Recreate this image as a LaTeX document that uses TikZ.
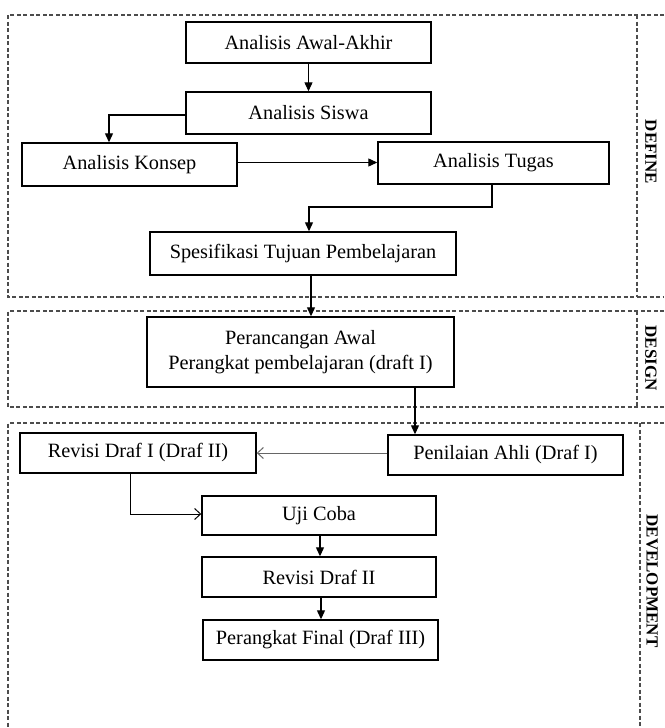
\documentclass[tikz,border=0pt]{standalone}
\usepackage{fontspec}
\setmainfont{Liberation Serif}
\usetikzlibrary{arrows.meta}
\begin{document}
\begin{tikzpicture}[x=1pt,y=-1pt,
  box/.style={draw,line width=1.4pt,inner sep=0pt,align=center,font=\fontsize{20.3}{25}\selectfont},
  arr/.style={line width=1.2pt,-{Triangle[length=9pt,width=8pt]}},
  openarr/.style={line width=1pt,-{Straight Barb[length=6pt,width=11pt]}},
  frame/.style={line width=1.1pt,gray!60!black,dash pattern=on 4pt off 2.5pt},
  phase/.style={rotate=-90,font=\bfseries\fontsize{17}{20}\selectfont}]
\useasboundingbox (0,0) rectangle (664,728);
% frames
\draw[frame] (664,15) -- (8,15) -- (8,297) -- (664,297);
\draw[frame] (637,15) -- (637,297);
\draw[frame] (664,311) -- (8,311) -- (8,407) -- (664,407);
\draw[frame] (637,311) -- (637,407);
\draw[frame] (664,423) -- (8,423) -- (8,728);
\draw[frame] (640,423) -- (640,728);
\node[phase] (lDefine) at (651,152) {DEFINE};
\node[phase] (lDesign) at (651,358) {DESIGN};
\node[phase] (lDev) at (652,581) {DEVELOPMENT};
% boxes
\node[box,minimum width=245pt,minimum height=41pt] (aa) at (308.5,42.5) {Analisis Awal-Akhir};
\node[box,minimum width=245pt,minimum height=42pt] (as) at (308.5,113) {Analisis Siswa};
\node[box,minimum width=215pt,minimum height=43pt] (ak) at (129.5,164.5) {Analisis Konsep};
\node[box,minimum width=231pt,minimum height=42pt] (at) at (493.5,163) {Analisis Tugas};
\node[box,minimum width=306pt,minimum height=43pt] (sp) at (303,253.5) {Spesifikasi Tujuan Pembelajaran};
\node[box,minimum width=307pt,minimum height=70pt] (pa) at (300.5,352) {Perancangan Awal\\Perangkat pembelajaran (draft I)};
\node[box,minimum width=236pt,minimum height=40pt] (rd1) at (138,453) {Revisi Draf I (Draf II)};
\node[box,minimum width=235pt,minimum height=40pt] (pn) at (505.5,455) {Penilaian Ahli (Draf I)};
\node[box,minimum width=234pt,minimum height=39pt] (uc) at (319,515.5) {Uji Coba};
\node[box,minimum width=234pt,minimum height=40pt] (rd2) at (319,577) {Revisi Draf II};
\node[box,minimum width=235pt,minimum height=40pt] (fin) at (320.5,640) {Perangkat Final (Draf III)};
% connectors
\draw[arr] (aa.south) -- (as.north);
\draw[arr] ([yshift=-2pt]as.west) -| ([xshift=-20.5pt]ak.north);
\draw[arr] ([yshift=2pt]ak.east) -- ([yshift=2pt]ak.east -| at.west);
\draw[arr] ([xshift=-1.5pt]at.south) |- (309,207) -- ([xshift=6pt]sp.north);
\draw[arr] ([xshift=8pt]sp.south) -- ([xshift=8pt]sp.south |- pa.north);
\draw[arr] ([xshift=114.5pt]pa.south) -- ([xshift=114.5pt]pa.south |- pn.north);
\draw[openarr,gray!80!black] ([yshift=2pt]pn.west) -- ([yshift=2pt]pn.west -| rd1.east);
\draw[openarr] ([xshift=-8pt]rd1.south) |- ([yshift=1.5pt]uc.west);
\draw[arr] ([xshift=1pt]uc.south) -- ([xshift=1pt]uc.south |- rd2.north);
\draw[arr] ([xshift=2pt]rd2.south) -- ([xshift=2pt]rd2.south |- fin.north);
\end{tikzpicture}
\end{document}
